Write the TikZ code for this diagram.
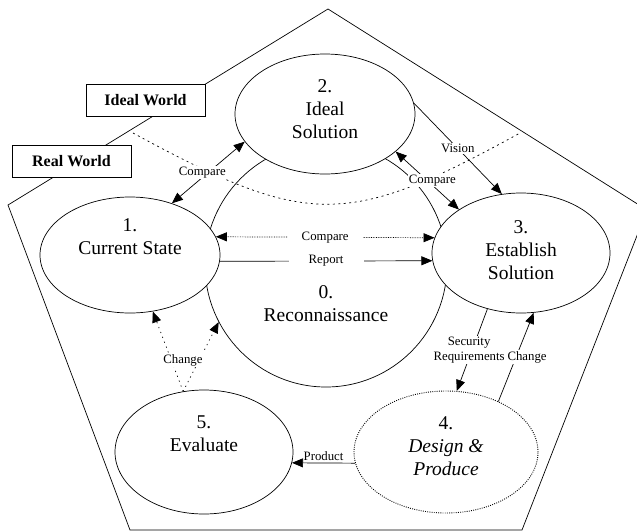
\documentclass[tikz,border=0pt]{standalone}
\usepackage{fontspec}
\setmainfont{Liberation Serif}
\usetikzlibrary{shapes.geometric,arrows.meta}
\begin{document}
\begin{tikzpicture}[x=1pt,y=-1pt,
  line width=0.7pt,
  ell/.style={ellipse, draw, fill=white, inner sep=0pt},
  dotell/.style={ellipse, draw, fill=white, inner sep=0pt, line width=0.9pt, dash pattern=on 0.9pt off 1.3pt},
  big/.style={font=\fontsize{19.5}{23}\selectfont, align=center, inner sep=0pt},
  small/.style={font=\fontsize{12.8}{15}\selectfont, align=center, inner sep=1pt, fill=white},
  smallnf/.style={font=\fontsize{12.8}{15}\selectfont, align=center, inner sep=1pt},
  worldbox/.style={draw, fill=white, font=\fontsize{16}{19}\selectfont\bfseries, minimum width=119pt, minimum height=32pt, inner sep=0pt},
  tip/.style={-{Triangle[length=11pt,width=9pt]}},
  tips/.style={{Triangle[length=11pt,width=9pt]}-{Triangle[length=11pt,width=9pt]}},
  sparse/.style={dash pattern=on 1.2pt off 4pt},
]
\useasboundingbox (0,0) rectangle (637,531);
\clip (0,0) rectangle (637,531);
% pentagon
\draw (328,9) -- (647,210) -- (522,530) -- (130,530) -- (8,205) -- cycle;
% world boxes
\node[worldbox] (ideal) at (145.5,100.5) {Ideal World};
\node[worldbox] (real) at (71.5,161.5) {Real World};
% reconnaissance
\node[ell, minimum width=242pt, minimum height=244pt] (e0) at (326,265) {};
% ideal/real boundary
\draw[dash pattern=on 2pt off 3.5pt] (133,133) .. controls (308,228) and (347,228) .. (520,133);
% ellipses
\node[ell, minimum width=180pt, minimum height=116pt] (e1) at (130,255) {};
\node[ell, minimum width=180pt, minimum height=120pt] (e2) at (325,114) {};
\node[ell, minimum width=178pt, minimum height=120pt] (e3) at (521,253) {};
\node[ell, minimum width=178pt, minimum height=124pt] (e5) at (204,452) {};
\node[dotell, minimum width=184pt, minimum height=122pt] (e4) at (446,452) {};
% texts
\node[big] (t0) at (326,304) {0.\\Reconnaissance};
\node[big] (t1) at (130,237) {1.\\Current State};
\node[big] (t2) at (325,109) {2.\\Ideal\\Solution};
\node[big] (t3) at (521,250) {3.\\Establish\\Solution};
\node[big] (t4) at (446,446) {4.\\\textit{Design \&}\\\textit{Produce}};
\node[big] (t5) at (204,434) {5.\\Evaluate};
% connectors
\draw[tips] (e1.51) -- node[small, xshift=-6pt] (l12) {Compare} (e2.199);
\draw[tip] (e2.7) -- node[small] (lv) {Vision} (e3.108);
\draw[tips] (e2.-28) -- node[small, xshift=5pt] (l23) {Compare} (e3.145);
\draw[tips, densely dotted] (e1.12) -- node[small, inner xsep=14pt] (l13) {Compare} (e3.170);
\draw[tip] (e1.-4) -- node[small, inner xsep=20pt] (lr) {Report} (e3.185);
\draw[tip, sparse] (e5.109) -- (e1.-68);
\draw[tip, sparse] (e5.109) -- (e0.208);
\node[small] (lch) at (183,360) {Change};
\draw[tip] (e3.239) -- node[small, xshift=-3pt] (lsr) {Security\\Requirements} (e4.80);
\draw[tip] (e4.44) -- node[small, xshift=11pt] (lch2) {Change} (e3.-78);
\draw[tip] (e4.187) -- node[smallnf, above=1pt] (lp) {Product} (e5.-7);
\end{tikzpicture}
\end{document}
